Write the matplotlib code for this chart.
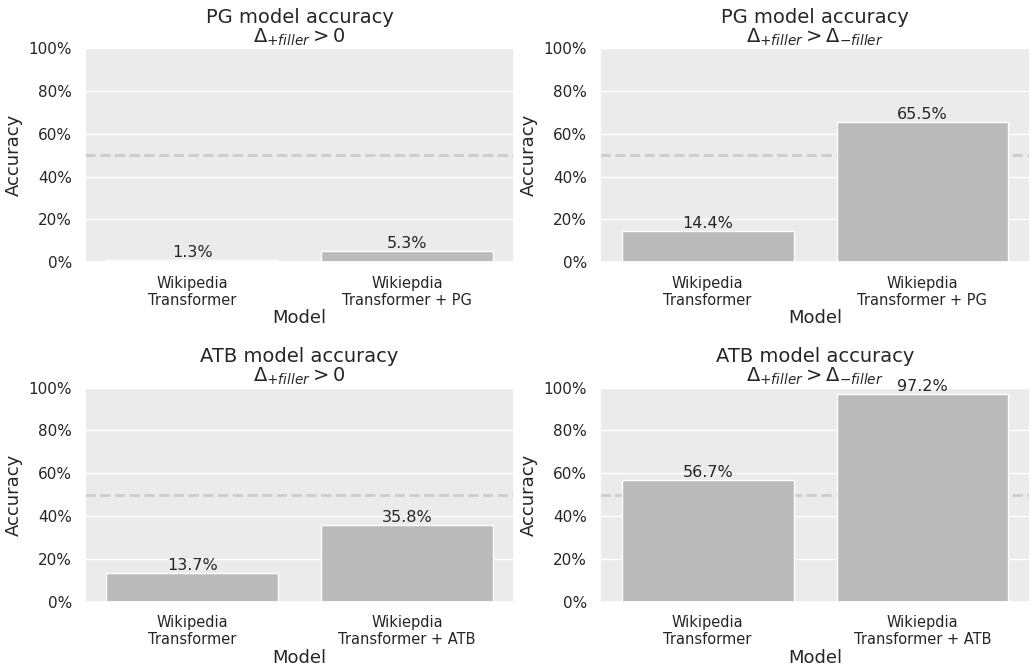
import matplotlib
matplotlib.use("Agg")
import matplotlib.pyplot as plt
import matplotlib.ticker as mtick
import seaborn as sns

sns.set_theme(style="darkgrid", rc={"axes.facecolor": "#EBEBEB", "grid.color": "white"})
plt.rcParams['font.family'] = ['DejaVu Sans']

pg_models = ["Wikipedia\nTransformer", "Wikiepdia\nTransformer + PG"]
atb_models = ["Wikipedia\nTransformer", "Wikiepdia\nTransformer + ATB"]

pg_gt_zero = [1.3, 5.3]
pg_gt_minus = [14.4, 65.5]
atb_gt_zero = [13.7, 35.8]
atb_gt_minus = [56.7, 97.2]

titles = [
    "PG model accuracy\n$\\Delta_{+filler} > 0$",
    "PG model accuracy\n$\\Delta_{+filler} > \\Delta_{-filler}$",
    "ATB model accuracy\n$\\Delta_{+filler} > 0$",
    "ATB model accuracy\n$\\Delta_{+filler} > \\Delta_{-filler}$",
]
panels = [(pg_models, pg_gt_zero), (pg_models, pg_gt_minus),
          (atb_models, atb_gt_zero), (atb_models, atb_gt_minus)]

fig, axes = plt.subplots(2, 2, figsize=(10.36, 6.68), dpi=100)
for ax, (cats, vals), title in zip(axes.flat, panels, titles):
    x = range(len(cats))
    bars = ax.bar(x, vals, width=0.8, color="#BBBBBB", edgecolor="white", linewidth=1)
    ax.axhline(50, color="#CCCCCC", linestyle="--", linewidth=2, zorder=0.5)
    for b, v in zip(bars, vals):
        ax.text(b.get_x() + b.get_width() / 2, v, f"{v}%", ha="center", va="bottom",
                fontsize=11.5, color="#262626")
    ax.set_xticks(list(x))
    ax.set_xticklabels(cats, fontsize=10.5)
    ax.set_xlim(-0.5, 1.5)
    ax.set_ylim(0, 100)
    ax.set_yticks([0, 20, 40, 60, 80, 100])
    ax.yaxis.set_major_formatter(mtick.PercentFormatter(decimals=0))
    ax.tick_params(axis="y", labelsize=11)
    ax.grid(axis="x", visible=False)
    ax.set_xlabel("Model", fontsize=13, labelpad=1)
    ax.set_ylabel("Accuracy", fontsize=13)
    ax.set_title(title, fontsize=14, linespacing=1.0, pad=4)

fig.subplots_adjust(left=0.082, right=0.994, top=0.928, bottom=0.099, wspace=0.2, hspace=0.585)
fig.savefig("out.png", dpi=100)
